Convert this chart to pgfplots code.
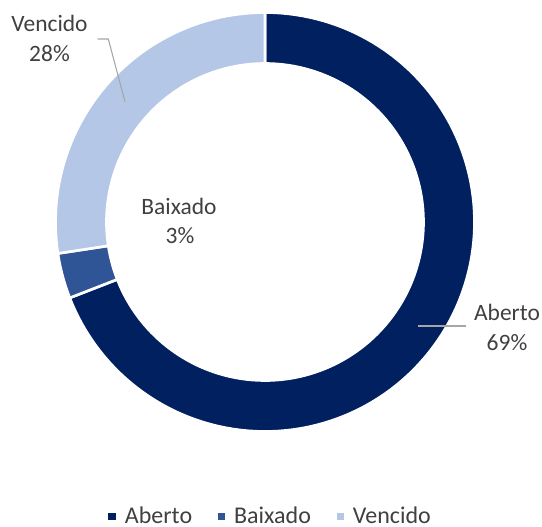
\documentclass[border=0pt]{standalone}
\usepackage{pgfplots}
\pgfplotsset{compat=1.18}
\usepackage{fontspec}
\setmainfont{Carlito}
\definecolor{cA}{RGB}{0,32,96}
\definecolor{cB}{RGB}{47,85,151}
\definecolor{cC}{RGB}{180,199,231}
\definecolor{txt}{RGB}{64,64,64}
\definecolor{lead}{RGB}{166,166,166}
% ring segment: colour, start and end as cumulative percentages (clockwise from top)
\newcommand{\seg}[3]{%
\addplot[fill=#1, draw=white, line width=2pt, domain=0:241, samples=242, variable=\t]
 ({265+ifthenelse(\t<120.5,209.5,158.5)*sin(3.6*ifthenelse(\t<120.5,#2+(#3-#2)*\t/120,#3-(#3-#2)*(\t-121)/120))},
  {304+ifthenelse(\t<120.5,209.5,158.5)*cos(3.6*ifthenelse(\t<120.5,#2+(#3-#2)*\t/120,#3-(#3-#2)*(\t-121)/120))}) -- cycle;
}
\begin{document}
\begin{tikzpicture}
\begin{axis}[
 scale only axis, width=406.5pt, height=394.5pt,
 xmin=0,xmax=542,ymin=0,ymax=526,
 hide axis, clip=false,
 legend columns=3,
 legend image code/.code={\path[#1, draw=none, line width=0pt] (0pt,-2.75pt) rectangle (5.5pt,2.75pt); \path[draw=none, fill=none] (0pt,0pt) -- (10.3pt,0pt);},
 legend style={draw=none, fill=none, at={(0.5,0)}, anchor=south, yshift=-2pt,
   font=\fontsize{18}{21}\selectfont\color{txt}, inner sep=0pt,
   /tikz/every even column/.append style={column sep=17.2pt}},
]
\seg{cA}{0}{69.1}
\addlegendentry{Aberto}
\seg{cB}{69.1}{72.6}
\addlegendentry{Baixado}
\seg{cC}{72.6}{100}
\addlegendentry{Vencido}
% leader lines
\addplot[lead, line width=0.8pt, forget plot] coordinates {(97.7,487) (108.3,487) (125,424.3)};
\addplot[lead, line width=0.8pt, forget plot] coordinates {(418.3,200) (465.7,200)};
% labels
\begin{scope}[every node/.style={anchor=base, inner sep=0pt, text=txt, font=\fontsize{17.6}{21}\selectfont}]
\node at (axis cs:49.5,494.3) {Vencido};
\node at (axis cs:49.5,464.3) {28\%};
\node at (axis cs:507,206) {Aberto};
\node at (axis cs:507,176) {69\%};
\node at (axis cs:179,312) {Baixado};
\node at (axis cs:180,282.7) {3\%};
\end{scope}
\path (axis cs:0,0) rectangle (axis cs:542,526);
\end{axis}
\pgfresetboundingbox
\useasboundingbox (current axis.south west) rectangle (current axis.north east);
\end{tikzpicture}
\end{document}
